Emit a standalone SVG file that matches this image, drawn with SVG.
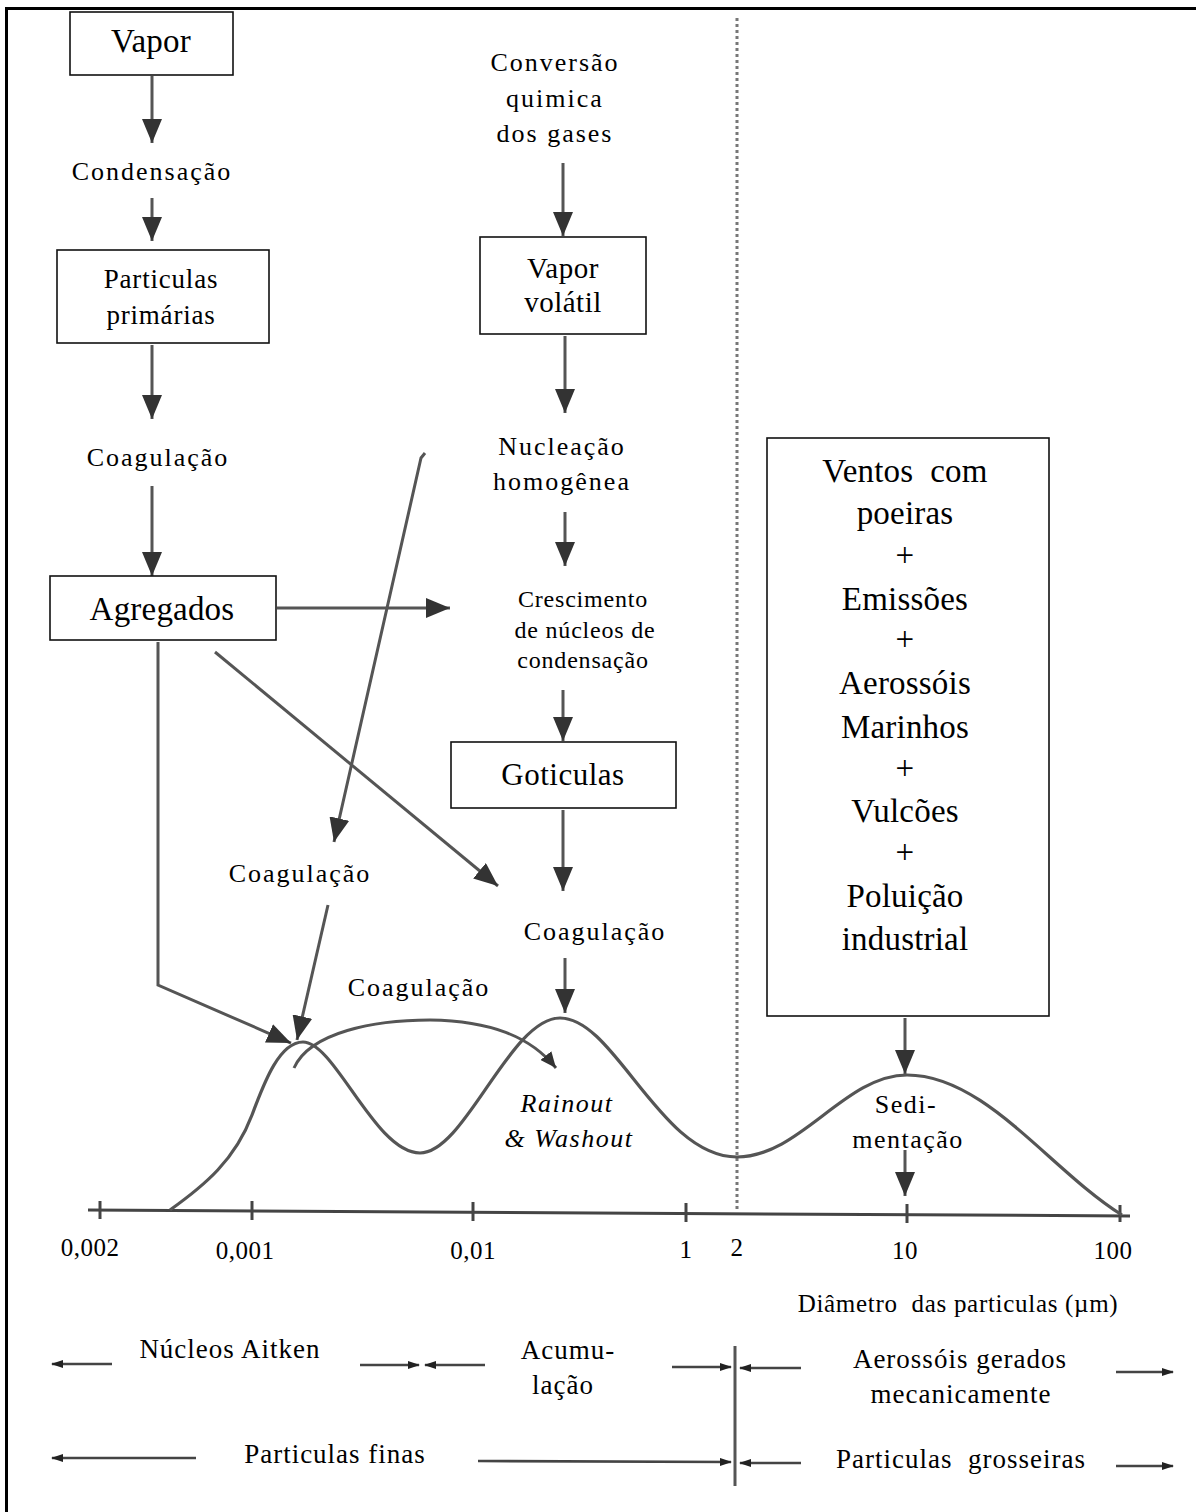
<svg xmlns="http://www.w3.org/2000/svg" width="1196" height="1512" viewBox="0 0 1196 1512">
<defs>
<style>
text{font-family:"Liberation Serif","Times New Roman",serif;fill:#000;text-anchor:middle}
.s24{font-size:26px;letter-spacing:2px}
.s22{font-size:24px;letter-spacing:0.8px}
.s25{font-size:27px;letter-spacing:1px}
.s26{font-size:27px;letter-spacing:0.8px}
.s28{font-size:29px;letter-spacing:0.5px}
.s30{font-size:31px;letter-spacing:0.5px}
.s32{font-size:33px;letter-spacing:0.2px}
.ax{font-size:25px;letter-spacing:0.5px}
.it{font-style:italic}
.pre{white-space:pre}
.box{fill:#fff;stroke:#111;stroke-width:1.6}
.ln{fill:none;stroke:#555;stroke-width:3}
.lg{fill:none;stroke:#444;stroke-width:2.6}
.curve{fill:none;stroke:#555;stroke-width:3.2}
</style>
<marker id="ah" markerUnits="userSpaceOnUse" markerWidth="24" markerHeight="20" refX="24" refY="10" orient="auto">
<path d="M0,0 L24,10 L0,20 Z" fill="#333"/>
</marker>
<marker id="am" markerUnits="userSpaceOnUse" markerWidth="16" markerHeight="14" refX="16" refY="7" orient="auto">
<path d="M0,0 L16,7 L0,14 Z" fill="#333"/>
</marker>
<marker id="as" markerUnits="userSpaceOnUse" markerWidth="12" markerHeight="8" refX="11" refY="4" orient="auto">
<path d="M0,0 L12,4 L0,8 Z" fill="#222"/>
</marker>
</defs>
<rect x="0" y="0" width="1196" height="1512" fill="#fff"/>
<g id="frame">
<line x1="5" y1="8.5" x2="1196" y2="8.5" stroke="#000" stroke-width="3"/>
<line x1="6.5" y1="8" x2="6.5" y2="1512" stroke="#000" stroke-width="3"/>
</g>

<g id="connectors">
<line class="ln" x1="152" y1="76" x2="152" y2="143" marker-end="url(#ah)"/>
<line class="ln" x1="152" y1="198" x2="152" y2="241" marker-end="url(#ah)"/>
<line class="ln" x1="152" y1="345" x2="152" y2="419" marker-end="url(#ah)"/>
<line class="ln" x1="152" y1="486" x2="152" y2="576" marker-end="url(#ah)"/>
<line class="ln" x1="277" y1="608" x2="450" y2="608" marker-end="url(#ah)"/>
<line class="ln" x1="563" y1="163" x2="563" y2="236" marker-end="url(#ah)"/>
<line class="ln" x1="565" y1="336" x2="565" y2="413" marker-end="url(#ah)"/>
<line class="ln" x1="565" y1="512" x2="565" y2="566" marker-end="url(#ah)"/>
<line class="ln" x1="563" y1="690" x2="563" y2="741" marker-end="url(#ah)"/>
<line class="ln" x1="563" y1="810" x2="563" y2="891" marker-end="url(#ah)"/>
<line class="ln" x1="565" y1="958" x2="565" y2="1013" marker-end="url(#ah)"/>
<path class="ln" d="M425,453 L421,458 L334,842" marker-end="url(#ah)"/>
<line class="ln" x1="215" y1="652" x2="498" y2="886" marker-end="url(#ah)"/>
<line class="ln" x1="328" y1="905" x2="297" y2="1040" marker-end="url(#ah)"/>
<path class="ln" d="M158,642 L158,985 L291,1043" marker-end="url(#ah)"/>
<path class="ln" d="M294,1068 C310,1032 375,1020 430,1020 C490,1021 530,1036 556,1068" marker-end="url(#am)"/>
<line class="ln" x1="905" y1="1018" x2="905" y2="1074" marker-end="url(#ah)"/>
<line class="ln" x1="905" y1="1150" x2="905" y2="1196" marker-end="url(#ah)"/>
</g>

<g id="plot">
<line x1="737" y1="18" x2="737" y2="1210" stroke="#777" stroke-width="3" stroke-dasharray="3,3"/>
<path d="M88,1210 L1130,1216" stroke="#444" stroke-width="3" fill="none"/>
<g stroke="#444" stroke-width="3">
<line x1="100" y1="1201" x2="100" y2="1219"/>
<line x1="252" y1="1201" x2="252" y2="1220"/>
<line x1="473" y1="1202" x2="473" y2="1221"/>
<line x1="686" y1="1203" x2="686" y2="1222"/>
<line x1="907" y1="1204" x2="907" y2="1223"/>
<line x1="1120" y1="1205" x2="1120" y2="1222"/>
</g>
<path class="curve" d="M170,1210 C205,1185 235,1160 252,1115 C265,1080 280,1042 303,1042 C335,1042 375,1153 420,1153 C465,1153 510,1018 560,1018 C615,1018 660,1157 737,1157 C800,1157 845,1075 907,1075 C985,1075 1050,1170 1122,1215"/>
<g class="axis-labels">
<text class="ax" x="90" y="1256">0,002</text>
<text class="ax" x="245" y="1259">0,001</text>
<text class="ax" x="473" y="1259">0,01</text>
<text class="ax" x="686" y="1258">1</text>
<text class="ax" x="737" y="1256">2</text>
<text class="ax" x="905" y="1259">10</text>
<text class="ax" x="1113" y="1259">100</text>
<text class="s22 pre" style="font-size:25px;letter-spacing:0.7px" x="958" y="1312">Diâmetro  das particulas (µm)</text>
</g>
</g>

<g id="n-vapor"><rect class="box" x="70" y="12" width="163" height="63"/><text class="s32" x="151" y="52">Vapor</text></g>
<g id="n-condensacao"><text class="s24" x="152" y="180">Condensação</text></g>
<g id="n-particulas-primarias"><rect class="box" x="57" y="250" width="212" height="93"/><text class="s26" x="161" y="288">Particulas</text><text class="s26" x="161" y="324">primárias</text></g>
<g id="n-coagulacao1"><text class="s24" x="158" y="466">Coagulação</text></g>
<g id="n-agregados"><rect class="box" x="50" y="576" width="226" height="64"/><text class="s32" x="162" y="620">Agregados</text></g>

<g id="n-conversao"><text class="s24" x="555" y="71">Conversão</text><text class="s24" x="555" y="107">quimica</text><text class="s24" x="555" y="142">dos gases</text></g>
<g id="n-vapor-volatil"><rect class="box" x="480" y="237" width="166" height="97"/><text class="s28" x="563" y="278">Vapor</text><text class="s28" x="563" y="312">volátil</text></g>
<g id="n-nucleacao"><text class="s24" x="562" y="455">Nucleação</text><text class="s24" x="562" y="490">homogênea</text></g>
<g id="n-crescimento"><text class="s22" x="583" y="607">Crescimento</text><text class="s22" x="585" y="638">de núcleos de</text><text class="s22" x="583" y="668">condensação</text></g>
<g id="n-goticulas"><rect class="box" x="451" y="742" width="225" height="66"/><text class="s30" x="563" y="785">Goticulas</text></g>
<g id="n-coagulacao2"><text class="s24" x="300" y="882">Coagulação</text></g>
<g id="n-coagulacao3"><text class="s24" x="595" y="940">Coagulação</text></g>
<g id="n-coagulacao4"><text class="s24" x="419" y="996">Coagulação</text></g>
<g id="n-rainout"><text class="s24 it" style="letter-spacing:1.5px" x="567" y="1112">Rainout</text><text class="s24 it" style="letter-spacing:1.5px" x="569" y="1147">&amp; Washout</text></g>

<g id="n-fontes"><rect class="box" x="767" y="438" width="282" height="578"/>
<text class="s32 pre" x="905" y="482">Ventos  com</text>
<text class="s32" x="905" y="524">poeiras</text>
<text class="s32" x="905" y="566">+</text>
<text class="s32" x="905" y="610">Emissões</text>
<text class="s32" x="905" y="650">+</text>
<text class="s32" x="905" y="694">Aerossóis</text>
<text class="s32" x="905" y="738">Marinhos</text>
<text class="s32" x="905" y="779">+</text>
<text class="s32" x="905" y="822">Vulcões</text>
<text class="s32" x="905" y="863">+</text>
<text class="s32" x="905" y="907">Poluição</text>
<text class="s32" x="905" y="950">industrial</text>
</g>
<g id="n-sedimentacao"><text class="s24" style="letter-spacing:1.5px" x="906" y="1113">Sedi-</text><text class="s24" style="letter-spacing:1.5px" x="908" y="1148">mentação</text></g>

<g id="legend">
<line class="lg" x1="112" y1="1364" x2="52" y2="1364" marker-end="url(#as)"/>
<text class="s25" x="230" y="1358">Núcleos Aitken</text>
<line class="lg" x1="360" y1="1365" x2="419" y2="1365" marker-end="url(#as)"/>
<line class="lg" x1="485" y1="1365" x2="425" y2="1365" marker-end="url(#as)"/>
<text class="s25" x="568" y="1359">Acumu-</text>
<text class="s25" x="563" y="1394">lação</text>
<line class="lg" x1="672" y1="1367" x2="731" y2="1367" marker-end="url(#as)"/>
<line x1="735" y1="1346" x2="735" y2="1486" stroke="#555" stroke-width="3"/>
<line class="lg" x1="801" y1="1368" x2="740" y2="1368" marker-end="url(#as)"/>
<text class="s25" x="960" y="1368">Aerossóis gerados</text>
<text class="s25" x="961" y="1403">mecanicamente</text>
<line class="lg" x1="1116" y1="1372" x2="1173" y2="1372" marker-end="url(#as)"/>

<line class="lg" x1="196" y1="1458" x2="52" y2="1458" marker-end="url(#as)"/>
<text class="s25" x="335" y="1463">Particulas finas</text>
<line class="lg" x1="478" y1="1461" x2="731" y2="1462" marker-end="url(#as)"/>
<line class="lg" x1="801" y1="1463" x2="740" y2="1463" marker-end="url(#as)"/>
<text class="s25 pre" x="961" y="1468">Particulas  grosseiras</text>
<line class="lg" x1="1116" y1="1466" x2="1173" y2="1466" marker-end="url(#as)"/>
</g>
</svg>
